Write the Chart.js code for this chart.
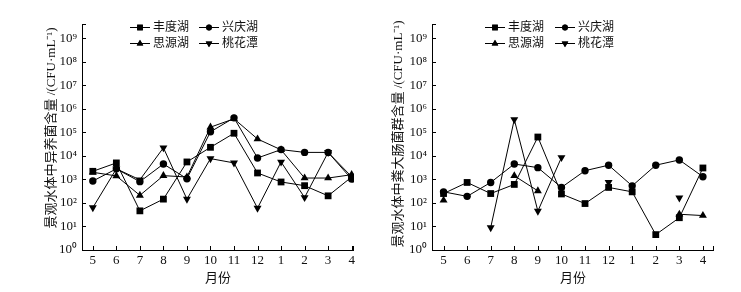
<!DOCTYPE html>
<html lang="zh">
  <head>
    <meta charset="utf-8" />
    <title>景观水体菌群含量</title>
    <style>
      * {
        margin: 0;
        padding: 0;
      }
      body {
        background: #fff;
      }
      .wrap {
        position: relative;
        width: 741px;
        height: 292px;
      }
      .box {
        position: absolute;
        top: 0;
        height: 292px;
      }
    </style>
  </head>
  <body>
    <div class="wrap">
      <div class="box" style="left: 0; width: 370px"><canvas id="c1"></canvas></div>
      <div class="box" style="left: 370px; width: 371px"><canvas id="c2"></canvas></div>
    </div>

    <script src="https://cdn.jsdelivr.net/npm/chart.js"></script>

    <script>
      const months = ["5", "6", "7", "8", "9", "10", "11", "12", "1", "2", "3", "4"];
      const lakes = ["丰度湖", "兴庆湖", "思源湖", "桃花潭"];
      const decades = [0, 1, 2, 3, 4, 5, 6, 7, 8, 9];

      // heterotrophic bacteria (left)
      const hetFengdu = [2200, 5000, 46, 145, 5500, 23000, 91000, 1870, 775, 540, 200, 1260];
      const hetXingqing = [850, 2800, 800, 4500, 1070, 105000, 410000, 8100, 18400, 14000, 14000, 1030];
      const hetSiyuan = [2000, 1400, 210, 1440, 1260, 165000, 375000, 52000, 18000, 1140, 1140, 1580];
      const hetTaohua = [63, 2800, 960, 22000, 145, 7600, 5000, 60, 5500, 170, 14000, 1300];

      // fecal coliforms (right)
      const fecFengdu = [250, 740, 250, 610, 63000, 240, 94, 455, 295, 4.5, 23.5, 3050];
      const fecXingqing = [295, 190, 740, 4500, 3150, 455, 2340, 4000, 530, 4000, 6700, 1300];
      const fecSiyuan = [130, null, null, 1420, 325, null, null, null, null, null, 33, 29];
      const fecTaohua = [null, null, 9, 350000, 45, 8500, null, 745, null, null, 163, null];

      const sup = ["⁰", "¹", "²", "³", "⁴", "⁵", "⁶", "⁷", "⁸", "⁹"];
      const serif = "'Liberation Serif', 'Times New Roman', 'Noto Sans CJK SC', serif";
      const cjk = "'Liberation Serif', 'Noto Sans CJK SC', serif";

      const markers = [
        { pointStyle: "rect", pointRadius: 4.8, rotation: 0 },
        { pointStyle: "circle", pointRadius: 3.7, rotation: 0 },
        { pointStyle: "triangle", pointRadius: 4.6, rotation: 0 },
        { pointStyle: "triangle", pointRadius: 4.6, rotation: 180 },
      ];

      function makeSets(series) {
        return series.map((vals, k) => ({
          label: lakes[k],
          data: vals.map((v, i) => ({ x: i, y: v })),
          borderColor: "#000",
          backgroundColor: "#000",
          borderWidth: 1,
          pointStyle: markers[k].pointStyle,
          pointRadius: markers[k].pointRadius,
          pointRotation: markers[k].rotation,
          pointBorderWidth: 0,
          spanGaps: false,
          tension: 0,
        }));
      }

      // axes with inward ticks, rotated y title, two-column legend
      const paperAxes = {
        id: "paperAxes",
        afterDraw(chart, args, opts) {
          const { ctx, chartArea: { left, right, top, bottom }, scales: { x, y } } = chart;
          ctx.save();
          ctx.strokeStyle = "#000";
          ctx.lineWidth = 1;
          ctx.beginPath();
          ctx.moveTo(left + 0.5, top);
          ctx.lineTo(left + 0.5, bottom + 0.5);
          ctx.lineTo(right, bottom + 0.5);
          // end caps
          ctx.moveTo(left, top + 0.5);
          ctx.lineTo(left + 4, top + 0.5);
          ctx.moveTo(right - 0.5, bottom);
          ctx.lineTo(right - 0.5, bottom - 4);
          y.ticks.forEach((t) => {
            const py = Math.round(y.getPixelForValue(t.value)) + 0.5;
            ctx.moveTo(left, py);
            ctx.lineTo(left + 4, py);
          });
          x.ticks.forEach((t) => {
            const px = Math.round(x.getPixelForValue(t.value)) + 0.5;
            ctx.moveTo(px, bottom);
            ctx.lineTo(px, bottom - 4);
          });
          ctx.stroke();

          // y title
          ctx.save();
          ctx.translate(opts.titleX, opts.titleY);
          ctx.rotate(-Math.PI / 2);
          ctx.font = "13px " + cjk;
          ctx.fillStyle = "#111";
          ctx.textAlign = "center";
          ctx.textBaseline = "middle";
          ctx.fillText(opts.title, 0, 0);
          ctx.restore();

          // legend
          ctx.font = "12px " + cjk;
          ctx.textBaseline = "middle";
          chart.data.datasets.forEach((ds, k) => {
            const col = k % 2;
            const row = Math.floor(k / 2);
            const lx = left + opts.cols[col];
            const ly = top + opts.rows[row];
            ctx.beginPath();
            ctx.moveTo(lx, ly + 0.5);
            ctx.lineTo(lx + 20, ly + 0.5);
            ctx.stroke();
            Chart.helpers.drawPoint(
              ctx,
              { pointStyle: ds.pointStyle, radius: ds.pointRadius - 0.8, rotation: ds.pointRotation, borderWidth: 0 },
              lx + 10,
              ly + 0.5
            );
            ctx.fillStyle = "#000";
            ctx.fill();
            ctx.fillStyle = "#111";
            ctx.fillText(ds.label, lx + 23, ly + 1);
          });
          ctx.restore();
        },
      };

      function makeChart(id, series, title, cfg) {
        return new Chart(document.getElementById(id), {
          type: "line",
          data: { datasets: makeSets(series) },
          options: {
            responsive: true,
            maintainAspectRatio: false,
            animation: false,
            layout: { padding: { top: 24, right: cfg.padRight, left: 0, bottom: 0 } },
            plugins: {
              legend: { display: false },
              tooltip: { enabled: false },
              paperAxes: { cols: cfg.cols, rows: [3, 19], title, titleX: cfg.titleX, titleY: cfg.titleY },
            },
            scales: {
              x: {
                type: "linear",
                min: cfg.xMin,
                max: cfg.xMax,
                grid: { display: false, drawTicks: false },
                border: { display: false },
                afterBuildTicks: (s) => {
                  s.ticks = months.map((m, i) => ({ value: i }));
                },
                afterFit: (s) => {
                  s.height = 42;
                },
                ticks: {
                  autoSkip: false,
                  maxRotation: 0,
                  padding: 3,
                  color: "#111",
                  font: { family: serif, size: 13 },
                  callback: (v) => months[v],
                },
                title: {
                  display: true,
                  text: "月份",
                  color: "#111",
                  font: { family: cjk, size: 13 },
                  padding: { top: 0, bottom: 6 },
                },
              },
              y: {
                type: "logarithmic",
                min: 1,
                max: Math.pow(10, 9.6),
                grid: { display: false, drawTicks: false },
                border: { display: false },
                afterBuildTicks: (s) => {
                  s.ticks = decades.map((d) => ({ value: Math.pow(10, d) }));
                },
                afterFit: (s) => {
                  s.width = cfg.yWidth;
                },
                ticks: {
                  padding: 5,
                  color: "#111",
                  font: { family: serif, size: 13 },
                  callback: (v) => "10" + sup[Math.round(Math.log10(v))],
                },
              },
            },
          },
          plugins: [paperAxes],
        });
      }

      makeChart(
        "c1",
        [hetFengdu, hetXingqing, hetSiyuan, hetTaohua],
        "景观水体中异养菌含量 /(CFU·mL⁻¹)",
        { yWidth: 82, padRight: 16, xMin: -0.46, xMax: 11.1, cols: [48, 117], titleX: 52, titleY: 128 }
      );

      makeChart(
        "c2",
        [fecFengdu, fecXingqing, fecSiyuan, fecTaohua],
        "景观水体中粪大肠菌群含量 /(CFU·mL⁻¹)",
        { yWidth: 62, padRight: 27, xMin: -0.49, xMax: 11.47, cols: [53, 123], titleX: 29, titleY: 134 }
      );
    </script>
  </body>
</html>
